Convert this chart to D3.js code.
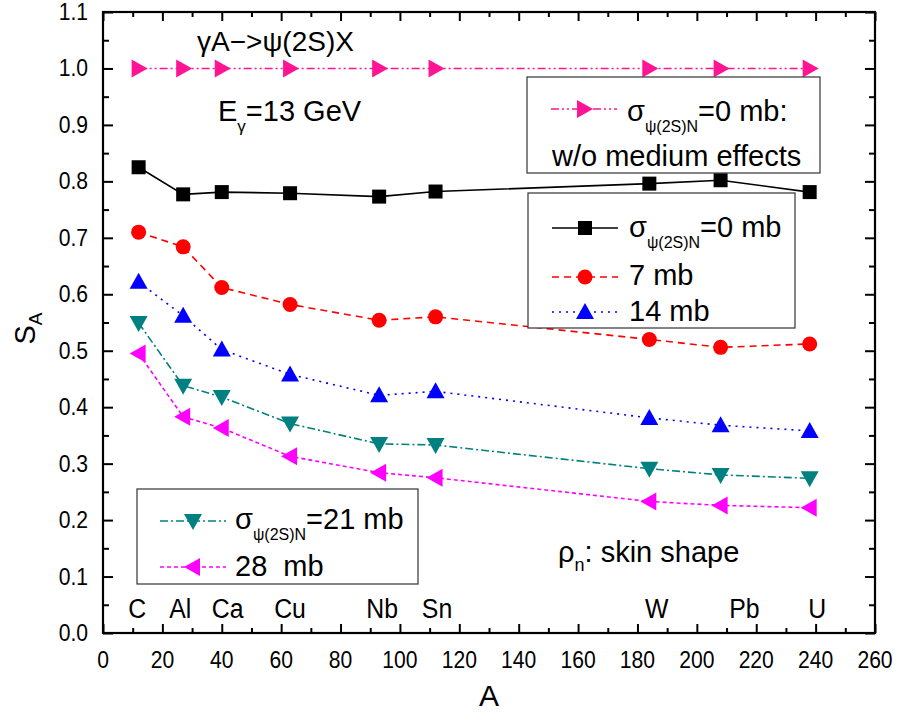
<!DOCTYPE html>
<html lang="en">
<meta charset="utf-8">
<style>
  body { margin: 0; background: #fff; }
  text { font-family: "Liberation Sans", Arial, sans-serif; }
</style>
<body>
<div id="my_dataviz"></div>

<script src="https://d3js.org/d3.v7.min.js"></script>
<script>

// nuclei and their mass numbers
var nuclei = ["C", "Al", "Ca", "Cu", "Nb", "Sn", "W", "Pb", "U"];
var massA = [12, 27, 40, 63, 93, 112, 184, 208, 238];
// where the nucleus names sit along A
var labelA = [11.5, 26, 42, 63, 94, 112.5, 186.5, 216, 240.5];

// S_A for each sigma_psi(2S)N
var sFree = [1, 1, 1, 1, 1, 1, 1, 1, 1];
var s0 = [0.825, 0.777, 0.781, 0.779, 0.773, 0.782, 0.796, 0.802, 0.781];
var s7 = [0.710, 0.684, 0.612, 0.582, 0.554, 0.560, 0.520, 0.506, 0.512];
var s14 = [0.622, 0.562, 0.502, 0.458, 0.421, 0.428, 0.381, 0.368, 0.358];
var s21 = [0.549, 0.438, 0.418, 0.371, 0.335, 0.333, 0.291, 0.280, 0.274];
var s28 = [0.495, 0.383, 0.363, 0.313, 0.284, 0.275, 0.233, 0.226, 0.222];

var xTicks = d3.range(0, 261, 20);
var yTicks = d3.range(0, 1.101, 0.1);

var margin = {top: 12, right: 24, bottom: 88, left: 103},
  width = 899 - margin.left - margin.right,
  height = 721 - margin.top - margin.bottom;

var svg = d3.select("#my_dataviz")
  .append("svg")
    .attr("width", 899)
    .attr("height", 721)
  .append("g")
    .attr("transform", "translate(" + margin.left + "," + margin.top + ")");

var x = d3.scaleLinear().domain([0, 260]).range([0, width]);
var y = d3.scaleLinear().domain([0, 1.1]).range([height, 0]);

// ticks on all four sides, pointing in
function tickAxis(axis, scale, vals, size) {
  return axis(scale).tickValues(vals).tickSize(size).tickSizeOuter(0).tickFormat("");
}
var xMinor = d3.range(10, 260, 20), yMinor = d3.range(0.05, 1.1, 0.1);

svg.append("g").attr("class", "ax").call(tickAxis(d3.axisTop, x, xTicks, 9)).attr("transform", "translate(0," + height + ")");
svg.append("g").attr("class", "ax").call(tickAxis(d3.axisTop, x, xMinor, 5)).attr("transform", "translate(0," + height + ")");
svg.append("g").attr("class", "ax").call(tickAxis(d3.axisBottom, x, xTicks, 9));
svg.append("g").attr("class", "ax").call(tickAxis(d3.axisBottom, x, xMinor, 5));
svg.append("g").attr("class", "ax").call(tickAxis(d3.axisRight, y, yTicks, 10));
svg.append("g").attr("class", "ax").call(tickAxis(d3.axisRight, y, yMinor, 6));
svg.append("g").attr("class", "ax").call(tickAxis(d3.axisLeft, y, yTicks, 10)).attr("transform", "translate(" + width + ",0)");
svg.append("g").attr("class", "ax").call(tickAxis(d3.axisLeft, y, yMinor, 6)).attr("transform", "translate(" + width + ",0)");
svg.selectAll(".ax path").remove();
svg.selectAll(".ax line").attr("stroke", "#000").attr("stroke-width", 2);

svg.append("rect")
  .attr("width", width).attr("height", height)
  .attr("fill", "none").attr("stroke", "#000").attr("stroke-width", 2.2);

// tick labels, slightly condensed like the original
svg.selectAll(".xl").data(xTicks).enter().append("text")
  .attr("transform", function(d) { return "translate(" + x(d) + "," + (height + 35) + ") scale(0.88,1)"; })
  .attr("text-anchor", "middle")
  .attr("font-size", 24)
  .text(function(d) { return d; });

svg.selectAll(".yl").data(yTicks).enter().append("text")
  .attr("transform", function(d) { return "translate(-15," + (y(d) + 8) + ") scale(0.88,1)"; })
  .attr("text-anchor", "end")
  .attr("font-size", 24)
  .text(function(d) { return d3.format(".1f")(d); });

// axis titles
svg.append("text")
  .attr("x", x(130)).attr("y", height + 73)
  .attr("text-anchor", "middle").attr("font-size", 30)
  .text("A");

var yt = svg.append("text")
  .attr("transform", "translate(-68," + (height / 2 + 6) + ") rotate(-90)")
  .attr("text-anchor", "middle").attr("font-size", 29);
yt.append("tspan").text("S");
yt.append("tspan").attr("font-size", 19).attr("dy", 7).text("A");

// nucleus names
svg.selectAll(".nuc").data(nuclei).enter().append("text")
  .attr("transform", function(d, i) { return "translate(" + x(labelA[i]) + "," + (y(0) - 15) + ") scale(0.92,1)"; })
  .attr("text-anchor", "middle")
  .attr("font-size", 27)
  .text(function(d) { return d; });

// series
var series = [
  {vals: sFree, color: "#ff1493", dash: "8,3,2,3,2,3", shape: "right"},
  {vals: s0, color: "#000000", dash: null, shape: "square"},
  {vals: s7, color: "#ff0000", dash: "7,5", shape: "circle"},
  {vals: s14, color: "#0000ff", dash: "2,5", shape: "up"},
  {vals: s21, color: "#008080", dash: "8,3,2,3", shape: "down"},
  {vals: s28, color: "#ff00ff", dash: "4,3", shape: "left"}
];

var line = d3.line()
  .x(function(d) { return x(d[0]); })
  .y(function(d) { return y(d[1]); });

function marker(g, shape, color) {
  if (shape === "square") {
    g.append("rect").attr("x", -7).attr("y", -7).attr("width", 14).attr("height", 14).attr("fill", color);
  } else if (shape === "circle") {
    g.append("circle").attr("r", 7.5).attr("fill", color);
  } else {
    var p = {
      up: "0,-9 9,7 -9,7",
      down: "0,9 9,-7 -9,-7",
      right: "9,0 -7,-9 -7,9",
      left: "-9,0 7,-9 7,9"
    }[shape];
    g.append("polygon").attr("points", p).attr("fill", color);
  }
}

series.forEach(function(s) {
  var pts = massA.map(function(a, i) { return [a, s.vals[i]]; });
  svg.append("path")
    .datum(pts)
    .attr("d", line)
    .attr("fill", "none")
    .attr("stroke", s.color)
    .attr("stroke-width", 1.6)
    .attr("stroke-dasharray", s.dash);
  pts.forEach(function(p) {
    var g = svg.append("g").attr("transform", "translate(" + x(p[0]) + "," + y(p[1]) + ")");
    marker(g, s.shape, s.color);
  });
});

// legends (page coordinates)
var page = d3.select("svg");
var fs = 29;

function legendRow(px, py, s) {
  page.append("line")
    .attr("x1", px).attr("x2", px + 66).attr("y1", py).attr("y2", py)
    .attr("stroke", s.color).attr("stroke-width", 1.6).attr("stroke-dasharray", s.dash);
  var g = page.append("g").attr("transform", "translate(" + (px + 33) + "," + py + ")");
  marker(g, s.shape, s.color);
}

function sigmaText(px, py, rest) {
  var t = page.append("text").attr("x", px).attr("y", py).attr("font-size", fs);
  t.append("tspan").text("σ");
  t.append("tspan").attr("font-size", 16).attr("dy", 11).text("ψ(2S)N");
  t.append("tspan").attr("dy", -11).text(rest);
}

function plainText(px, py, str) {
  page.append("text").attr("x", px).attr("y", py).attr("font-size", fs).text(str);
}

// box 1
page.append("rect").attr("x", 527).attr("y", 77).attr("width", 293).attr("height", 96)
  .attr("fill", "#fff").attr("stroke", "#333").attr("stroke-width", 1.2);
legendRow(551, 109, series[0]);
sigmaText(627, 121, "=0 mb:");
plainText(552, 166, "w/o medium effects");

// box 2
page.append("rect").attr("x", 528).attr("y", 193).attr("width", 267).attr("height", 135)
  .attr("fill", "#fff").attr("stroke", "#333").attr("stroke-width", 1.2);
legendRow(552, 228, series[1]);
sigmaText(629, 237, "=0 mb");
legendRow(552, 277, series[2]);
plainText(629, 285, "7 mb");
legendRow(552, 312, series[3]);
plainText(629, 321, "14 mb");

// box 3
page.append("rect").attr("x", 137).attr("y", 489).attr("width", 281).attr("height", 95)
  .attr("fill", "#fff").attr("stroke", "#333").attr("stroke-width", 1.2);
legendRow(160, 521, series[4]);
sigmaText(235, 529, "=21 mb");
legendRow(160, 567, series[5]);
plainText(235, 576, "28\u00a0\u00a0mb");

// annotations
page.append("text").attr("x", 197).attr("y", 51).attr("font-size", 28).text("γA−>ψ(2S)X");

var e = page.append("text").attr("x", 218).attr("y", 121).attr("font-size", fs);
e.append("tspan").text("E");
e.append("tspan").attr("font-size", 17).attr("dy", 11).text("γ");
e.append("tspan").attr("dy", -11).text("=13 GeV");

var r = page.append("text").attr("x", 558).attr("y", 562).attr("font-size", fs);
r.append("tspan").text("ρ");
r.append("tspan").attr("font-size", 18).attr("dy", 9).text("n");
r.append("tspan").attr("dy", -9).text(": skin shape");

</script>
</body>
</html>
